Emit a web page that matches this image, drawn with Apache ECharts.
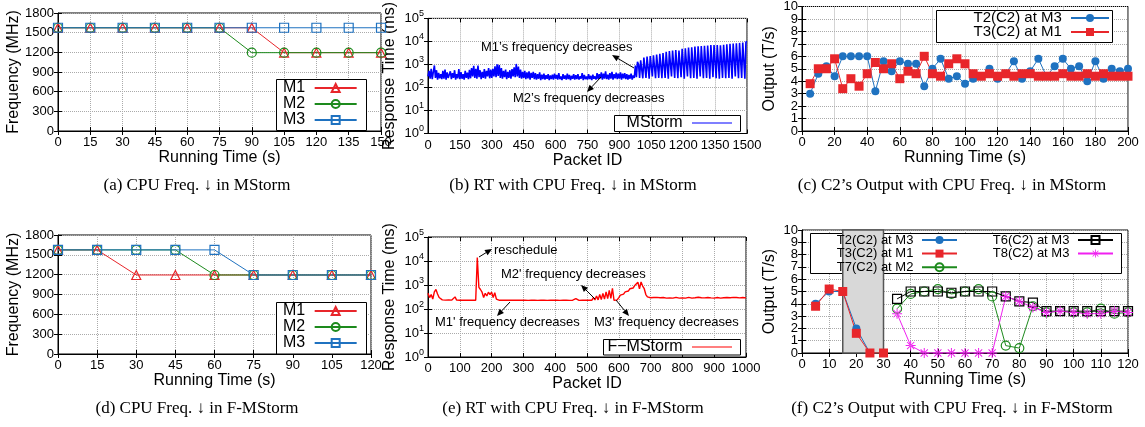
<!DOCTYPE html>
<html>
<head>
<meta charset="utf-8">
<title>CPU frequency decrease: MStorm vs F-MStorm</title>
<script src="https://cdn.jsdelivr.net/npm/echarts@6/dist/echarts.min.js"></script>
<style>
html,body{margin:0;padding:0;background:#fff;}
#main{width:1145px;height:427px;}
</style>
</head>
<body>
<div id="main"></div>
<script>
var FONT = 'Liberation Sans, Arial, Helvetica, sans-serif';
var SERIF = 'Liberation Serif, Times New Roman, serif';

// (a) CPU frequency in MStorm
var timeA = [0,15,30,45,60,75,90,105,120,135,150];
var m1A = [1575,1575,1575,1575,1575,1575,1575,1195,1195,1195,1195];
var m2A = [1575,1575,1575,1575,1575,1575,1195,1195,1195,1195,1195];
var m3A = [1575,1575,1575,1575,1575,1575,1575,1575,1575,1575,1575];

// (d) CPU frequency in F-MStorm
var timeD = [0,15,30,45,60,75,90,105,120];
var m1D = [1575,1575,1195,1195,1195,1195,1195,1195,1195];
var m2D = [1575,1575,1575,1575,1195,1195,1195,1195,1195];
var m3D = [1575,1575,1575,1575,1575,1195,1195,1195,1195];

// (b) response time in MStorm, one value every PKT_STEP packets (ms)
var PKT_STEP = 5;
var rtB = [
  300,520,240,650,230,480,900,260,560,220,430,250,380,230,520,240,600,220,450,260,
  240,500,230,420,260,560,220,380,250,620,230,460,240,380,220,520,260,440,230,580,
  250,700,300,880,260,650,240,900,280,560,230,480,260,620,240,520,300,700,250,600,
  260,650,300,820,280,1000,320,950,260,700,240,520,280,600,230,480,260,560,240,620,
  300,750,280,1050,300,800,260,600,240,480,260,520,230,450,250,500,220,430,260,480,
  230,420,220,380,240,450,210,360,230,400,220,340,240,380,210,330,230,360,220,400,
  240,350,220,420,230,300,210,380,240,330,220,400,230,350,210,320,240,380,220,340,
  230,380,220,300,240,420,210,350,230,300,220,380,230,320,210,360,240,300,220,420,
  230,380,250,450,220,400,240,500,230,360,220,420,240,480,220,380,250,440,230,400,
  240,450,220,400,250,420,230,380,220,350,240,400,220,330,260,900,280,1300,1000,260,
  1500,1800,250,2000,1700,260,2200,2400,240,2300,2600,300,2500,2800,250,2700,3000,260,2900,2800,
  250,3100,3300,260,3500,3200,240,3800,3600,300,4000,3700,260,4200,4400,250,4000,4600,280,4800,
  4500,240,5000,5200,300,5400,5600,250,5500,5800,260,6000,5700,240,6200,6000,300,6300,6100,250,
  6400,6500,260,6600,6800,240,7000,6700,280,6900,7100,250,7000,7200,240,6800,7300,260,7100,7400,
  250,7500,7600,260,7800,7700,240,8000,8200,300,8300,8100,250,8600,8800,260,9000,8900,240,9400,
  9800
];

// (e) response time in F-MStorm, one value every PKT_STEP packets (ms)
var rtE = [
  450,300,400,260,520,650,420,300,260,240,230,235,230,240,230,235,230,320,235,230,
  230,235,230,240,230,235,230,240,230,235,230,14000,800,650,500,300,450,350,500,400,
  500,300,480,260,240,230,235,230,240,230,235,230,240,230,235,230,240,230,235,230,
  235,230,240,228,235,232,240,230,235,228,240,232,235,230,240,228,235,230,240,232,
  235,230,240,228,235,232,240,230,235,228,240,232,235,270,240,228,235,230,240,232,
  235,230,260,230,300,240,350,240,400,250,450,260,520,270,600,280,720,230,235,240,
  300,380,450,420,520,600,560,700,800,750,950,1100,1300,700,1350,900,700,400,320,300,
  295,285,300,290,305,285,295,290,300,310,285,295,290,300,285,295,305,290,285,300,
  290,300,285,295,305,290,285,300,295,290,310,285,295,300,290,285,300,295,290,305,
  285,295,300,290,285,305,295,290,300,285,295,290,305,285,300,295,290,285,300,295,
  290
];

// (c) C2's output in MStorm (T/s)
var timeC = [5,10,15,20,25,30,35,40,45,50,55,60,65,70,75,80,85,90,95,100,
  105,110,115,120,125,130,135,140,145,150,155,160,165,170,175,180,185,190,195,200];
var t2C = [3.0,4.6,5.2,4.4,6.0,6.0,6.0,6.0,3.2,5.6, 4.8,5.6,5.4,5.4,3.6,5.0,5.8,4.2,4.4,3.8,
  4.2,4.4,5.0,4.2,4.6,5.6,4.2,4.8,5.8,4.4, 5.2,5.8,5.0,5.2,4.0,5.6,4.2,5.0,4.8,5.0];
var t3C = [3.8,5.0,5.0,5.8,3.4,4.2,3.6,4.6,5.5,5.0, 5.4,4.2,4.8,4.6,6.0,4.6,4.4,5.4,5.8,5.4,
  4.6,4.4,4.6,4.4,4.6,4.4,4.6,4.6,4.4,4.4, 4.4,4.6,4.4,4.4,4.6,4.4,4.6,4.4,4.4,4.4];

// (f) C2's output in F-MStorm (T/s), null = task not running
var timeF = [5,10,15,20,25,30,35,40,45,50,55,60,65,70,75,80,85,90,95,100,105,110,115,120];
var t2F = [4.0,5.0,5.0,2.0,0,null,null,null,null,null,null,null,null,null,null,null,null,null,null,null,null,null,null,null];
var t3F = [3.8,5.2,5.0,1.6,0,0,null,null,null,null,null,null,null,null,null,null,null,null,null,null,null,null,null,null];
var t7F = [null,null,null,null,null,null,3.6,4.8,5.0,5.2,4.8,5.0,5.2,4.6,0.6,0.4,3.8,3.3,3.4,3.3,3.3,3.6,3.2,3.3];
var t6F = [null,null,null,null,null,null,4.4,5.0,5.0,5.0,4.9,5.0,5.0,5.0,4.6,4.2,4.1,3.4,3.4,3.4,3.4,3.4,3.4,3.4];
var t8F = [null,null,null,null,null,null,3.2,0.6,0,0,0,0,0,0,4.6,4.2,3.7,3.3,3.4,3.3,3.2,3.2,3.4,3.3];
var rescheduleF = [15, 30];

var RED = '#e8262b', GREEN = '#1d8a1d', BLUE = '#1f72c0', MAG = '#f020f0';
var CLEAR = 'rgba(255,255,255,0)';
var STAR = 'path://M-0.6,-6L0.6,-6L0.6,6L-0.6,6Z M-6,-0.6L6,-0.6L6,0.6L-6,0.6Z M-4.7,-3.9L3.9,4.7L4.7,3.9L-3.9,-4.7Z M-4.7,3.9L-3.9,4.7L4.7,-3.9L3.9,-4.7Z';
var BAR_ICON = 'path://M0,0L46,0L46,1.2L0,1.2Z';

var grids = [
  {left:58, top:13, width:323, height:118},
  {left:428, top:12.5, width:319, height:121},
  {left:802, top:6, width:326, height:125},
  {left:58, top:235, width:313, height:119},
  {left:428, top:237, width:318, height:120},
  {left:802, top:230, width:326, height:123}
];
grids.forEach(function(g){ g.show = true; g.borderColor = '#000'; g.borderWidth = 1; });

function zip(xs, ys){
  var out = [];
  for (var i = 0; i < xs.length; i++) out.push([xs[i], ys[i]]);
  return out;
}
function byPacket(ys){
  return ys.map(function(v, i){ return [i * PKT_STEP, v]; });
}

var tick = {inside:true, length:4, lineStyle:{color:'#000'}};
var dotted = {show:true, lineStyle:{color:'#aaa', type:'dotted', width:1}};
function plain(v){ return String(v); }
function logLabel(v){
  return '{b|10}{s|' + Math.round(Math.log(v) / Math.LN10) + '}';
}

var xAxes = [], yAxes = [], yMain = [];
function addX(gi, min, max, interval, name){
  xAxes.push({type:'value', gridIndex:gi, min:min, max:max, interval:interval,
    name:name, nameLocation:'middle', nameGap:17,
    nameTextStyle:{fontSize:16, color:'#000', fontFamily:FONT},
    axisLine:{lineStyle:{color:'#000'}}, axisTick:tick,
    axisLabel:{fontSize:13, color:'#000', fontFamily:FONT, margin:5, formatter:plain,
      showMinLabel:true, showMaxLabel:true, hideOverlap:false},
    splitLine:dotted});
  xAxes.push({type:'value', gridIndex:gi, position:'top', min:min, max:max, interval:interval,
    axisLine:{show:false}, axisTick:tick, axisLabel:{show:false}, splitLine:{show:false}});
}
// dense: tick labels sit too close for the overlap check, so the end labels
// (min and max) come from a second label-only axis
function addY(gi, min, max, interval, name, gap, log, dense){
  var label = {fontSize:13, color:'#000', fontFamily:FONT, margin:4,
    showMinLabel: dense ? false : true, showMaxLabel: dense ? false : true, hideOverlap:false};
  var a = {type: log ? 'log' : 'value', gridIndex:gi, min:min, max:max,
    name:name, nameLocation:'middle', nameGap:gap,
    nameTextStyle:{fontSize:16, color:'#000', fontFamily:FONT},
    axisLine:{show:true, lineStyle:{color:'#000'}}, axisTick:tick,
    axisLabel:label, splitLine:dotted};
  var m = {type: log ? 'log' : 'value', gridIndex:gi, position:'right', min:min, max:max,
    axisLine:{show:false}, axisTick:tick, axisLabel:{show:false}, splitLine:{show:false}};
  if (log) {
    a.logBase = 10; m.logBase = 10;
    label.formatter = logLabel;
    label.rich = {
      b:{fontSize:13, fontFamily:FONT, color:'#000'},
      s:{fontSize:9, fontFamily:FONT, color:'#000', verticalAlign:'top', padding:[0,0,9,0]}
    };
  } else {
    a.interval = interval; m.interval = interval;
    label.formatter = plain;
  }
  yMain[gi] = yAxes.length;
  yAxes.push(a); yAxes.push(m);
  if (dense) {
    yAxes.push({type:'value', gridIndex:gi, position:'left', min:min, max:max, interval:max - min,
      axisLine:{show:false}, axisTick:{show:false}, splitLine:{show:false},
      axisLabel:{fontSize:13, color:'#000', fontFamily:FONT, margin:4, formatter:plain,
        showMinLabel:true, showMaxLabel:true}});
  }
}

addX(0, 0, 150, 15, 'Running Time (s)');   addY(0, 0, 1800, 300, 'Frequency (MHz)', 34);
addX(1, 0, 1500, 150, 'Packet ID');         addY(1, 1, 100000, 0, 'Response Time (ms)', 30, true);
addX(2, 0, 200, 20, 'Running Time (s)');    addY(2, 0, 10, 1, 'Output (T/s)', 24, false, true);
addX(3, 0, 120, 15, 'Running Time (s)');    addY(3, 0, 1800, 300, 'Frequency (MHz)', 34);
addX(4, 0, 1000, 100, 'Packet ID');         addY(4, 1, 100000, 0, 'Response Time (ms)', 30, true);
addX(5, 0, 120, 10, 'Running Time (s)');    addY(5, 0, 10, 1, 'Output (T/s)', 24, false, true);

function lineSeries(name, gi, data, color, symbol, size, filled){
  return {type:'line', name:name, xAxisIndex:2*gi, yAxisIndex:yMain[gi], data:data,
    symbol:symbol, symbolSize:size, showAllSymbol:true,
    lineStyle:{color:color, width:1},
    itemStyle:{color: filled ? color : CLEAR, borderColor:color, borderWidth: filled ? 0 : 1.2},
    emphasis:{disabled:true}};
}

var series = [
  lineSeries('M1', 0, zip(timeA, m1A), RED, 'triangle', 9, false),
  lineSeries('M2', 0, zip(timeA, m2A), GREEN, 'circle', 9, false),
  lineSeries('M3', 0, zip(timeA, m3A), BLUE, 'rect', 9, false),
  lineSeries('M1', 3, zip(timeD, m1D), RED, 'triangle', 9, false),
  lineSeries('M2', 3, zip(timeD, m2D), GREEN, 'circle', 9, false),
  lineSeries('M3', 3, zip(timeD, m3D), BLUE, 'rect', 9, false),
  {type:'line', name:'MStorm', xAxisIndex:2, yAxisIndex:yMain[1], data:byPacket(rtB),
    showSymbol:false, symbol:'none', lineStyle:{color:'#0000ff', width:1.6}, itemStyle:{color:'#0000ff'}},
  {type:'line', name:'F\u2212MStorm', xAxisIndex:8, yAxisIndex:yMain[4], data:byPacket(rtE),
    showSymbol:false, symbol:'none', lineStyle:{color:'#ff0000', width:1.4}, itemStyle:{color:'#ff0000'}},
  lineSeries('T2(C2) at M3', 2, zip(timeC, t2C), BLUE, 'circle', 8, true),
  lineSeries('T3(C2) at M1', 2, zip(timeC, t3C), RED, 'rect', 9, true)
];
var fT2 = lineSeries('T2(C2) at M3', 5, zip(timeF, t2F), BLUE, 'circle', 8, true);
fT2.markArea = {silent:true, z:2,
  itemStyle:{color:'#d8d8d8', borderColor:'#555', borderWidth:1.5},
  data:[[{xAxis:rescheduleF[0]}, {xAxis:rescheduleF[1]}]]};
var fSeries = [
  fT2,
  lineSeries('T3(C2) at M1', 5, zip(timeF, t3F), RED, 'rect', 9, true),
  lineSeries('T7(C2) at M2', 5, zip(timeF, t7F), GREEN, 'circle', 9, false),
  lineSeries('T6(C2) at M3', 5, zip(timeF, t6F), '#000', 'rect', 9, false),
  lineSeries('T8(C2) at M3', 5, zip(timeF, t8F), MAG, STAR, 10, true)
];
fSeries.forEach(function(s){ s.z = 3; series.push(s); });

// legends carry no box; boxes are drawn as rects in the graphic list
function legendList(names, pos, top, fontSize, gap, itemWidth){
  var l = {data:names, top:top, orient:'vertical', align:'right',
    itemWidth:itemWidth, itemHeight:10, itemGap:gap, padding:0,
    selectedMode:false, formatter:'{name} ',
    textStyle:{fontSize:fontSize, lineHeight:fontSize, color:'#000', fontFamily:FONT}};
  if (pos.left !== undefined) l.left = pos.left; else l.right = pos.right;
  return l;
}
var legends = [
  legendList(['M1','M2','M3'], {left:283}, 80, 16, 0, 42),
  legendList(['M1','M2','M3'], {left:283}, 303, 16, 0, 42),
  legendList([{name:'MStorm', icon:BAR_ICON, itemStyle:{color:'#0000ff'}}], {right:1145-732}, 115, 16, 0, 40),
  legendList([{name:'F\u2212MStorm', icon:BAR_ICON, itemStyle:{color:'#ff0000'}}], {right:1145-732}, 339, 16, 0, 40),
  legendList(['T2(C2) at M3','T3(C2) at M1'], {right:1145-1110}, 10.5, 15, -1, 38),
  legendList(['T2(C2) at M3','T3(C2) at M1','T7(C2) at M2'], {right:1145-958}, 233.5, 13, 0.6, 35),
  legendList(['T6(C2) at M3','T8(C2) at M3'], {right:1145-1114}, 233.5, 13, 0.6, 35)
];

function box(x, y, w, h){
  return {type:'rect', z:1, silent:true, shape:{x:x, y:y, width:w, height:h},
    style:{fill:'#fff', stroke:'#000', lineWidth:1}};
}
function txt(x, y, s, size, family, align){
  return {type:'text', x:x, y:y, z:10, silent:true,
    style:{text:s, fontSize:size, fontFamily:family, fill:'#000',
      align:align || 'left', verticalAlign:'middle',
      textAlign:align || 'left', textVerticalAlign:'middle'}};
}
// arrow with its head at (x2, y2)
function arrow(x1, y1, x2, y2){
  var dx = x2 - x1, dy = y2 - y1, len = Math.sqrt(dx*dx + dy*dy);
  var ux = dx / len, uy = dy / len, hl = 7, hw = 3;
  var bx = x2 - ux*hl, by = y2 - uy*hl;
  return [
    {type:'line', z:10, silent:true, shape:{x1:x1, y1:y1, x2:bx, y2:by}, style:{stroke:'#000', lineWidth:1}},
    {type:'polygon', z:10, silent:true,
      shape:{points:[[x2,y2],[bx - uy*hw, by + ux*hw],[bx + uy*hw, by - ux*hw]]}, style:{fill:'#000'}}
  ];
}

var graphics = [
  box(276.5, 79.5, 90, 51),
  box(276.5, 302.5, 90, 51.5),
  box(614.5, 115.5, 126, 16),
  box(603.5, 339.5, 137, 15.5),
  box(936.5, 10.5, 176, 32),
  box(810.5, 233.5, 311, 40),
  txt(197, 186, '(a) CPU Freq. \u2193 in MStorm', 17, SERIF, 'center'),
  txt(573, 186, '(b) RT with CPU Freq. \u2193 in MStorm', 17, SERIF, 'center'),
  txt(952, 186, '(c) C2\u2019s Output with CPU Freq. \u2193 in MStorm', 17, SERIF, 'center'),
  txt(197, 409, '(d) CPU Freq. \u2193 in F-MStorm', 17, SERIF, 'center'),
  txt(573, 409, '(e) RT with CPU Freq. \u2193 in F-MStorm', 17, SERIF, 'center'),
  txt(952, 409, '(f) C2\u2019s Output with CPU Freq. \u2193 in F-MStorm', 17, SERIF, 'center'),
  txt(481, 47, 'M1\u2019s frequency decreases', 13, FONT),
  txt(513, 98, 'M2\u2019s frequency decreases', 13, FONT),
  txt(494, 250, 'reschedule', 13, FONT),
  txt(501, 274, 'M2\' frequency decreases', 13, FONT),
  txt(435, 322, 'M1\' frequency decreases', 13, FONT),
  txt(594, 322, 'M3\' frequency decreases', 13, FONT)
];
graphics = graphics
  .concat(arrow(634, 68, 612, 55))
  .concat(arrow(601, 77, 587, 92))
  .concat(arrow(479, 257, 492, 249))
  .concat(arrow(595, 299, 581, 285))
  .concat(arrow(510, 302, 497, 316))
  .concat(arrow(616, 300, 629, 316));

var chart = echarts.init(document.getElementById('main'), null, {renderer:'canvas'});
chart.setOption({
  animation:false,
  backgroundColor:'#fff',
  textStyle:{fontFamily:FONT},
  grid:grids,
  xAxis:xAxes,
  yAxis:yAxes,
  legend:legends,
  series:series,
  graphic:{elements:graphics}
});
</script>
</body>
</html>
